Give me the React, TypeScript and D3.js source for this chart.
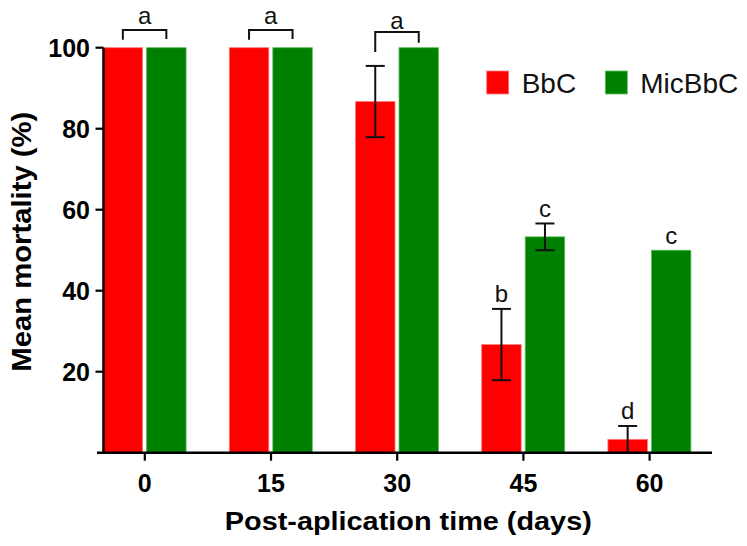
import React from "react";
import * as d3 from "d3";

const categories = ["0", "15", "30", "45", "60"];
const seriesNames = ["BbC", "MicBbC"];
const bbcValues = [100, 100, 86.7, 26.7, 3.3];
const bbcErrors = [0, 0, 8.8, 8.8, 3.3];
const micValues = [100, 100, 100, 53.3, 50];
const micErrors = [0, 0, 0, 3.3, 0];
const bbcLetters = ["", "", "", "b", "d"];
const micLetters = ["", "", "", "c", "c"];
const bracketLetters = ["a", "a", "a", "", ""];
const yTicks = [20, 40, 60, 80, 100];
const colors = ["#ff0000", "#008000"];
const edgeColors = ["#ff7a7a", "#5fbf5f"];

const FONT = "'Liberation Sans', Arial, Helvetica, sans-serif";

export default function App() {
  const W = 747, H = 546;
  const y = d3.scaleLinear().domain([0, 100]).range([452.7, 47.7]);
  const x = d3.scalePoint<string>().domain(categories).range([144.3, 649.1]);
  const barW = 39.5;
  const offsets = [-41.2, 2.3];
  const series = [
    { values: bbcValues, errors: bbcErrors, letters: bbcLetters },
    { values: micValues, errors: micErrors, letters: micLetters },
  ];
  const axisX = 103.5;
  const axisY = y(0);

  return (
    <svg width={W} height={H} style={{ position: "absolute", left: 0, top: 0, background: "#fff" }}>
      <rect x={0} y={0} width={W} height={H} fill="#fff" />
      {/* bars */}
      {series.map((s, si) =>
        categories.map((c, i) => {
          const cx = (x(c) as number) + offsets[si];
          return (
            <rect
              key={`b${si}-${i}`}
              x={cx}
              y={y(s.values[i])}
              width={barW}
              height={axisY - y(s.values[i])}
              fill={colors[si]}
              stroke={edgeColors[si]}
              strokeWidth={0.8}
            />
          );
        })
      )}
      {/* error bars */}
      {series.map((s, si) =>
        categories.map((c, i) => {
          if (!s.errors[i]) return null;
          const cx = (x(c) as number) + offsets[si] + barW / 2;
          const top = y(s.values[i] + s.errors[i]);
          const bot = Math.min(axisY, y(s.values[i] - s.errors[i]));
          const lowVisible = s.values[i] - s.errors[i] > 0.5;
          return (
            <g key={`e${si}-${i}`} stroke="#111" strokeWidth={2}>
              <line x1={cx} x2={cx} y1={top} y2={bot} />
              <line x1={cx - 9.5} x2={cx + 9.5} y1={top} y2={top} />
              {lowVisible && <line x1={cx - 9.5} x2={cx + 9.5} y1={bot} y2={bot} />}
            </g>
          );
        })
      )}
      {/* letters above bars */}
      {series.map((s, si) =>
        categories.map((c, i) => {
          if (!s.letters[i]) return null;
          const cx = (x(c) as number) + offsets[si] + barW / 2;
          const top = y(s.values[i] + s.errors[i]);
          return (
            <text
              key={`l${si}-${i}`}
              x={cx}
              y={top - 6.5}
              textAnchor="middle"
              fontFamily={FONT}
              fontSize={24}
              fill="#111"
            >
              {s.letters[i]}
            </text>
          );
        })
      )}
      {/* brackets */}
      {categories.map((c, i) => {
        if (!bracketLetters[i]) return null;
        const lx = (x(c) as number) + offsets[0] + barW / 2;
        const rx = (x(c) as number) + offsets[1] + barW / 2;
        const hasErr = bbcErrors[i] > 0 || micErrors[i] > 0;
        const top = y(100) - (hasErr ? 15.7 : 17.7);
        const lEnd = Math.min(y(bbcValues[i] + bbcErrors[i]) - 8, top + 20);
        const rEnd = Math.min(y(micValues[i] + micErrors[i]) - (hasErr ? 5 : 8.7), top + 20);
        return (
          <g key={`br${i}`}>
            <path
              d={`M${lx},${lEnd}V${top}H${rx}V${rEnd}`}
              fill="none"
              stroke="#111"
              strokeWidth={2}
            />
            <text
              x={(lx + rx) / 2}
              y={top - (hasErr ? 3 : 6)}
              textAnchor="middle"
              fontFamily={FONT}
              fontSize={24}
              fill="#111"
            >
              {bracketLetters[i]}
            </text>
          </g>
        );
      })}
      {/* y axis */}
      <line x1={axisX} x2={axisX} y1={y(100)} y2={axisY + 1.2} stroke="#000" strokeWidth={2.5} />
      {yTicks.map((t) => (
        <g key={`yt${t}`}>
          <line x1={axisX - 8} x2={axisX} y1={y(t)} y2={y(t)} stroke="#000" strokeWidth={2.2} />
          <text
            x={90}
            y={y(t) + 9}
            textAnchor="end"
            fontFamily={FONT}
            fontWeight="bold"
            fontSize={25}
            fill="#000"
          >
            {t}
          </text>
        </g>
      ))}
      {/* x axis */}
      <line x1={97} x2={712} y1={axisY} y2={axisY} stroke="#000" strokeWidth={2.5} />
      {categories.map((c) => (
        <g key={`xt${c}`}>
          <line
            x1={(x(c) as number) + 0.5}
            x2={(x(c) as number) + 0.5}
            y1={axisY}
            y2={axisY + 8}
            stroke="#000"
            strokeWidth={2.2}
          />
          <text
            x={(x(c) as number) + 0.5}
            y={491.7}
            textAnchor="middle"
            fontFamily={FONT}
            fontWeight="bold"
            fontSize={25}
            fill="#000"
          >
            {c}
          </text>
        </g>
      ))}
      {/* axis titles */}
      <text
        x={408.3}
        y={529.5}
        textAnchor="middle"
        fontFamily={FONT}
        fontWeight="bold"
        fontSize={25}
        textLength={367}
        lengthAdjust="spacingAndGlyphs"
        fill="#000"
      >
        Post-aplication time (days)
      </text>
      <text
        transform={`translate(31,241.7) rotate(-90)`}
        textAnchor="middle"
        fontFamily={FONT}
        fontWeight="bold"
        fontSize={28}
        textLength={260}
        lengthAdjust="spacingAndGlyphs"
        fill="#000"
      >
        Mean mortality (%)
      </text>
      {/* legend */}
      {seriesNames.map((n, i) => {
        const lx = [486.7, 605.3][i];
        return (
          <g key={`lg${i}`}>
            <rect x={lx} y={71} width={22} height={23} fill={colors[i]} stroke={edgeColors[i]} strokeWidth={0.8} />
            <text x={lx + 35} y={92.7} fontFamily={FONT} fontSize={28} fill="#111">
              {n}
            </text>
          </g>
        );
      })}
    </svg>
  );
}
